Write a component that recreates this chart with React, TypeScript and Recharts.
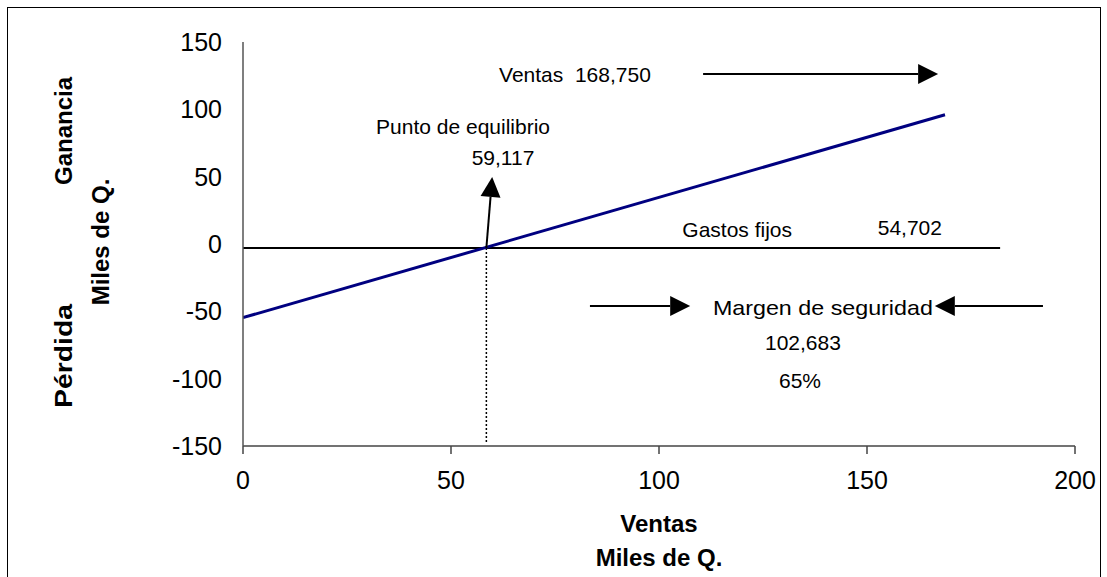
import { LineChart, Line, XAxis, YAxis, ReferenceLine, ReferenceDot, Label } from 'recharts'

// sales (miles de Q.) and profit/loss line
const salesX = [0, 168.75]
const profit = [-54.7, 96]
const xTicks = [0, 50, 100, 150, 200]
const yTicks = [150, 100, 50, 0, -50, -100, -150]

// reference positions
const breakEven = 58.5
const zeroLineY = -3
const fixedEnd = 182

const notes = [
  { text: 'Ventas\u00a0\u00a0168,750', x: 79.8, y: 126.2, len: 0 },
  { text: 'Punto de equilibrio', x: 52.9, y: 87.6, len: 0 },
  { text: '59,117', x: 62.5, y: 64.6, len: 0 },
  { text: 'Gastos fijos', x: 118.8, y: 11.1, len: 0 },
  { text: '54,702', x: 160.3, y: 11.9, len: 0 },
  { text: 'Margen de seguridad', x: 139.4, y: -46.8, len: 220 },
  { text: '102,683', x: 134.6, y: -73.5, len: 0 },
  { text: '65%', x: 133.9, y: -101, len: 0 },
]

const arrows = [
  { from: [110.6, 126.2], to: [167.1, 126.2] },
  { from: [breakEven, zeroLineY], to: [59.9, 49.8] },
  { from: [83.4, -46], to: [107.5, -46] },
  { from: [192.3, -46], to: [166.3, -46] },
]

const data = salesX.map((x, i) => ({ x, y: profit[i] }))

const FONT = '"Liberation Sans", Arial, sans-serif'

function Arrow(props: any) {
  const { x1, y1, x2, y2 } = props
  const dx = x2 - x1
  const dy = y2 - y1
  const len = Math.sqrt(dx * dx + dy * dy) || 1
  const ux = dx / len
  const uy = dy / len
  const hl = 20
  const hw = 10
  const bx = x2 - ux * hl
  const by = y2 - uy * hl
  const pts = `${x2},${y2} ${bx - uy * hw},${by + ux * hw} ${bx + uy * hw},${by - ux * hw}`
  return (
    <g>
      <line x1={x1} y1={y1} x2={bx} y2={by} stroke="#000" strokeWidth={2} />
      <polygon points={pts} fill="#000" />
    </g>
  )
}

function NoteText(text: string, len: number) {
  return (props: any) => (
    <text
      x={props.cx}
      y={props.cy}
      textAnchor="middle"
      dominantBaseline="central"
      fontSize={21}
      fontFamily={FONT}
      fill="#000"
      textLength={len || undefined}
      lengthAdjust={len ? 'spacingAndGlyphs' : undefined}
    >
      {text}
    </text>
  )
}

function XTitle(props: any) {
  const { x, y, width } = props.viewBox
  const cx = x + width / 2
  return (
    <g fontFamily={FONT} fontWeight="bold" fontSize={24} fill="#000" textAnchor="middle">
      <text x={cx} y={y + 77} dominantBaseline="central">Ventas</text>
      <text x={cx} y={y + 111} dominantBaseline="central">Miles de Q.</text>
    </g>
  )
}

function YTitle(props: any) {
  const { y } = props.viewBox
  const items = [
    { t: 'Pérdida', x: 63, y: y + 314, len: 104 },
    { t: 'Ganancia', x: 63, y: y + 89, len: 0 },
    { t: 'Miles de Q.', x: 100, y: y + 200, len: 0 },
  ]
  return (
    <g fontFamily={FONT} fontWeight="bold" fontSize={24} fill="#000" textAnchor="middle">
      {items.map(it => (
        <text
          key={it.t}
          x={it.x}
          y={it.y}
          textLength={it.len || undefined}
          lengthAdjust={it.len ? 'spacingAndGlyphs' : undefined}
          dominantBaseline="central"
          transform={`rotate(-90 ${it.x} ${it.y})`}
        >
          {it.t}
        </text>
      ))}
    </g>
  )
}

export default function App() {
  return (
    <div style={{ position: 'absolute', left: 0, top: 0, width: 1107, height: 577, background: '#fff', fontFamily: FONT, overflow: 'hidden' }}>
      <div
        style={{
          position: 'absolute',
          left: 7,
          top: 7,
          width: 1092,
          height: 600,
          border: '1px solid #000',
          pointerEvents: 'none',
        }}
      />
      <LineChart
        width={1107}
        height={577}
        data={data}
        margin={{ top: 42, right: 32, bottom: 0, left: 0 }}
      >
        <XAxis
          type="number"
          dataKey="x"
          domain={[0, 200]}
          ticks={xTicks}
          allowDataOverflow
          height={131}
          tickSize={8}
          tickMargin={17}
          axisLine={{ stroke: '#444', strokeWidth: 1.5 }}
          tickLine={{ stroke: '#444', strokeWidth: 1.5 }}
          tick={{ fontSize: 25, fill: '#000', fontFamily: FONT }}
        >
          <Label content={XTitle} />
        </XAxis>
        <YAxis
          type="number"
          domain={[-150, 150]}
          ticks={yTicks}
          allowDataOverflow
          width={243}
          tickSize={0}
          tickMargin={21}
          axisLine={{ stroke: '#555', strokeWidth: 1.5 }}
          tickLine={false}
          tick={{ fontSize: 25, fill: '#000', fontFamily: FONT }}
        >
          <Label content={YTitle} />
        </YAxis>
        <ReferenceLine
          segment={[{ x: 0, y: zeroLineY }, { x: fixedEnd, y: zeroLineY }]}
          stroke="#000"
          strokeWidth={2}
        />
        <ReferenceLine
          segment={[{ x: breakEven, y: zeroLineY }, { x: breakEven, y: -147 }]}
          stroke="#000"
          strokeWidth={1.5}
          strokeDasharray="2 2"
        />
        <Line
          type="linear"
          dataKey="y"
          stroke="#000080"
          strokeWidth={3}
          dot={false}
          isAnimationActive={false}
        />
        {arrows.map((a, i) => (
          <ReferenceLine
            key={'a' + i}
            segment={[{ x: a.from[0], y: a.from[1] }, { x: a.to[0], y: a.to[1] }]}
            shape={Arrow}
          />
        ))}
        {notes.map(n => (
          <ReferenceDot key={n.text} x={n.x} y={n.y} r={1} shape={NoteText(n.text, n.len)} />
        ))}
      </LineChart>
    </div>
  )
}
